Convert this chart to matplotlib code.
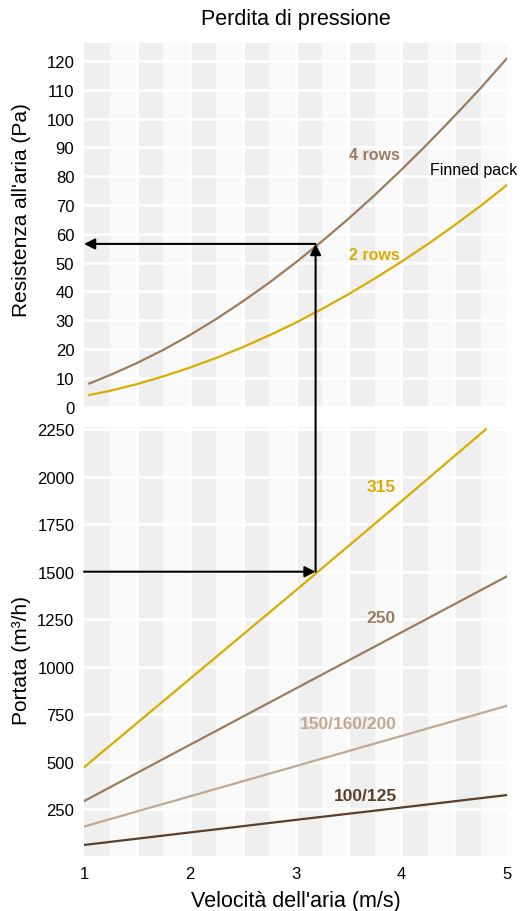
import numpy as np
import matplotlib
matplotlib.use("Agg")
import matplotlib.pyplot as plt

#-------------------#
# Data
#-------------------#
# Pressure drop of the finned pack (Pa) vs air speed (m/s)
speed_rows = [1.05, 1.25, 1.5, 1.75, 2.0, 2.25, 2.5, 2.75, 3.0, 3.25, 3.5, 3.75, 4.0, 4.25, 4.5, 4.75, 5.0]
rows4 = [8, 11, 15.1, 19.7, 24.8, 30.4, 36.5, 43, 50, 57.4, 65.2, 73.5, 82.2, 91.3, 100.8, 110.6, 121]
rows2 = [4, 5.5, 7.8, 10.5, 13.5, 16.9, 20.6, 24.7, 29.1, 33.9, 39, 44.5, 50.3, 56.4, 62.9, 69.7, 77]

# Air flow (m3/h) vs air speed for each duct diameter
speed_315 = [1.0, 2.0, 3.0, 4.0, 4.8]
flow_315 = [470, 935, 1400, 1870, 2250]
speed_duct = [1.0, 2.0, 3.0, 4.0, 5.0]
flow_250 = [292, 588, 884, 1180, 1476]
flow_150 = [158, 317, 476, 635, 794]
flow_100 = [61, 127, 193, 258, 324]

# Reading example
ex_speed = 3.19
ex_flow = 1500
ex_press = 56.5

top_ticks = list(range(0, 121, 10))
bot_ticks = [250, 500, 750, 1000, 1250, 1500, 1750, 2000, 2250]
x_ticks = [1, 2, 3, 4, 5]

#-------------------#
# Style
#-------------------#
plt.rcParams['font.family'] = ['Liberation Sans', 'DejaVu Sans']
c_brown = "#9c7c5f"
c_yellow = "#d9ad00"
c_tan = "#c2a892"
c_dark = "#5b3f26"
c_band1 = "#efefef"
c_band2 = "#f9f9f9"

fig = plt.figure(figsize=(5.2, 9.12), dpi=100)
W, H = 520.0, 912.0
ax_top = fig.add_axes([84/W, 1-409/H, 423/W, 365/H])
ax_bot = fig.add_axes([84/W, 1-857/H, 423/W, 429/H])

def style_axis(ax):
	ax.set_facecolor(c_band2)
	for k in range(8):
		ax.axvspan(1 + 0.5*k, 1.25 + 0.5*k, color=c_band1, lw=0, zorder=0)
	for xv in np.arange(1.5, 5.0, 0.5):
		ax.axvline(xv, color="white", lw=2, zorder=0.5)
	for s in ax.spines.values():
		s.set_visible(False)
	ax.set_xlim(1, 5)
	ax.tick_params(length=0, labelsize=12, pad=7, colors="black")
	ax.yaxis.grid(True, color="white", lw=2, zorder=0.5)
	ax.set_axisbelow(True)

#-------------------#
# Top: pressure drop
#-------------------#
style_axis(ax_top)
ax_top.plot(speed_rows, rows4, color=c_brown, lw=1.6, zorder=2)
ax_top.plot(speed_rows, rows2, color=c_yellow, lw=1.6, zorder=2)
ax_top.set_ylim(-0.5, 126.3)
ax_top.set_yticks(top_ticks)
ax_top.set_xticks(x_ticks)
ax_top.tick_params(axis="x", labelbottom=False)
ax_top.set_ylabel("Resistenza all'aria (Pa)", fontsize=15)
ax_top.yaxis.set_label_coords(-0.125, 0.545)
ax_top.text(3.75, 87.4, "4 rows", color=c_brown, fontsize=11.5, fontweight="bold", ha="center", va="center")
ax_top.text(3.75, 52.9, "2 rows", color=c_yellow, fontsize=11.5, fontweight="bold", ha="center", va="center")
ax_top.text(4.68, 82.4, "Finned pack", color="black", fontsize=11.5, ha="center", va="center", clip_on=False)

#-------------------#
# Bottom: air flow
#-------------------#
style_axis(ax_bot)
ax_bot.plot(speed_315, flow_315, color=c_yellow, lw=1.6, zorder=2)
ax_bot.plot(speed_duct, flow_250, color=c_brown, lw=1.6, zorder=2)
ax_bot.plot(speed_duct, flow_150, color=c_tan, lw=1.6, zorder=2)
ax_bot.plot(speed_duct, flow_100, color=c_dark, lw=1.6, zorder=2)
ax_bot.set_ylim(3, 2262)
ax_bot.set_yticks(bot_ticks)
ax_bot.set_xticks(x_ticks)
ax_bot.tick_params(axis="x", pad=7)
ax_bot.set_ylabel("Portata (m³/h)", fontsize=15)
ax_bot.yaxis.set_label_coords(-0.125, 0.457)
ax_bot.set_xlabel("Velocità dell'aria (m/s)", fontsize=15.5, labelpad=7)
ax_bot.text(3.81, 1948, "315", color=c_yellow, fontsize=12.5, fontweight="bold", ha="center", va="center")
ax_bot.text(3.81, 1259, "250", color=c_brown, fontsize=12.5, fontweight="bold", ha="center", va="center")
ax_bot.text(3.50, 703, "150/160/200", color=c_tan, fontsize=12.5, fontweight="bold", ha="center", va="center")
ax_bot.text(3.66, 320, "100/125", color=c_dark, fontsize=12.5, fontweight="bold", ha="center", va="center")

#-------------------#
# Reading arrows
#-------------------#
arr = dict(arrowstyle="-|>", color="black", lw=1.5, mutation_scale=16, shrinkA=0, shrinkB=0)
ax_bot.annotate("", xy=(ex_speed, ex_flow), xytext=(1, ex_flow), arrowprops=arr, annotation_clip=False)
ax_bot.annotate("", xy=(ex_speed, ex_press), xycoords=ax_top.transData,
	xytext=(ex_speed, ex_flow), textcoords=ax_bot.transData, arrowprops=arr, annotation_clip=False)
ax_bot.annotate("", xy=(1, ex_press), xycoords=ax_top.transData,
	xytext=(ex_speed, ex_press), textcoords=ax_top.transData, arrowprops=arr, annotation_clip=False)

fig.text(295.5/W, 1-20/H, "Perdita di pressione", fontsize=15.5, ha="center", va="center")

fig.savefig("out.png", dpi=100)
